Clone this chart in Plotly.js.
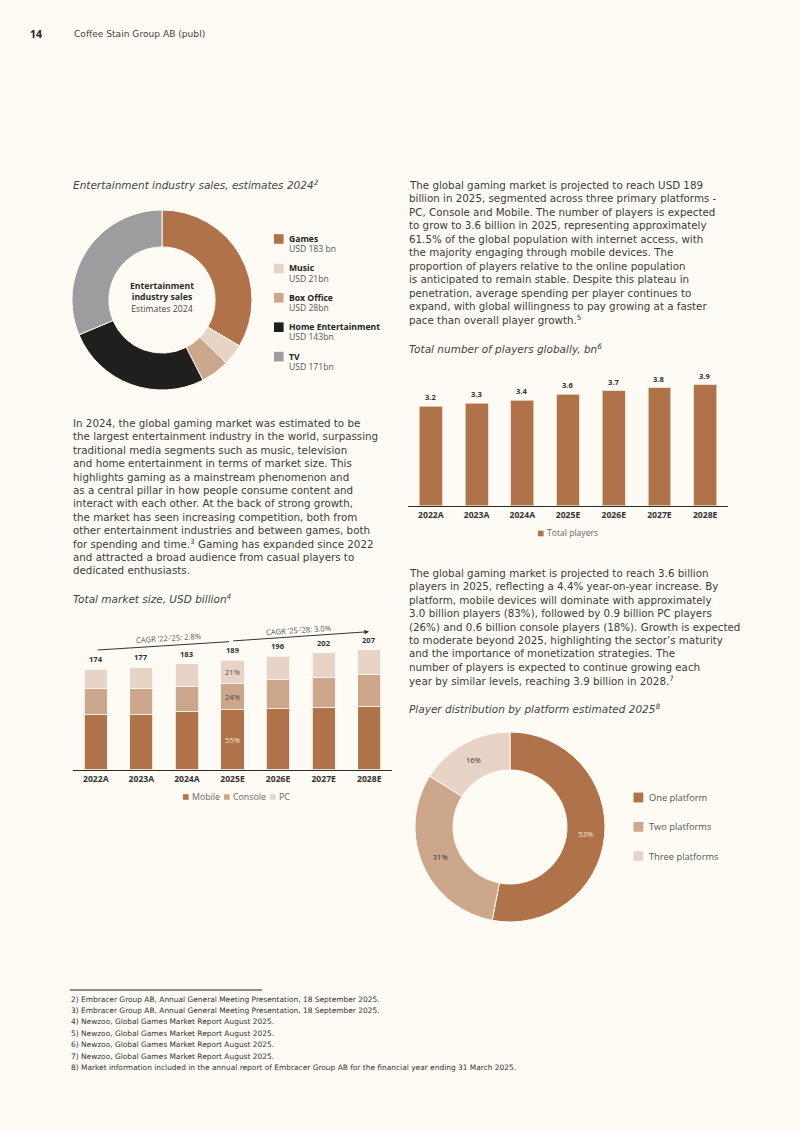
<!DOCTYPE html>
<html>
<head>
<meta charset="utf-8">
<script src="https://cdn.plot.ly/plotly-3.0.1.min.js"></script>
<style>
  html, body { margin: 0; padding: 0; background: #fdfbf3; }
  #page { width: 800px; height: 1131px; }
</style>
</head>
<body>
<div id="page"></div>
<script>
// ---- Data ----
const years = ['2022A', '2023A', '2024A', '2025E', '2026E', '2027E', '2028E'];

// Total market size, USD billion
const marketSeries = ['Mobile', 'Console', 'PC'];
const mobile = [95, 95, 100, 104, 106, 107, 109];
const consoleSales = [45, 45, 44, 45, 50, 52, 55];
const pc = [34, 37, 39, 40, 40, 43, 43];
const shareYear = '2025E';
const cagrLabels = ['CAGR \u201922-\u201925: 2.8%', 'CAGR \u201925-\u201928: 3.0%'];

// Total number of players globally, bn
const playerSeries = 'Total players';
const players = [3.2, 3.3, 3.4, 3.6, 3.7, 3.8, 3.9];

// Entertainment industry sales, estimates 2024
const entLabels = ['Games', 'Music', 'Box Office', 'Home Entertainment', 'TV'];
const entValues = [183, 21, 28, 143, 171];
const entValueText = ['USD 183 bn', 'USD 21bn', 'USD 28bn', 'USD 143bn', 'USD 171bn'];

// Player distribution by platform estimated 2025, %
const platformLabels = ['One platform', 'Two platforms', 'Three platforms'];
const platformShares = [53, 31, 16];

// ---- Style ----
const W = 800, H = 1131;
const FONT = 'Open Sans, sans-serif';       // chart labels
const BODY = 'DejaVu Sans, sans-serif';     // running text
const BG = '#fdfbf3';
const COPPER = '#b07349', TAN = '#cda78b', SAND = '#e7d4c6', INK = '#1f1f1d', GREY = '#9d9c9f';
const TEXT = '#3b3b3b';
const px = x => x / W;
const py = y => 1 - y / H;

const annotations = [];
const shapes = [];

function txt(x, y, s, o = {}) {
  annotations.push({
    xref: 'paper', yref: 'paper', x: px(x), y: py(y), text: s, showarrow: false,
    xanchor: o.anchor || 'left', yanchor: 'middle', textangle: o.angle || 0, borderpad: 0,
    align: o.anchor === 'center' ? 'center' : 'left',
    font: { family: o.family || FONT, size: o.size || 10, color: o.color || TEXT, weight: o.weight || 400 }
  });
}
function para(x, y0, step, lines, o) {
  lines.forEach((l, i) => txt(x, y0 + i * step, l, o));
}
function square(x, y, s, color) {
  shapes.push({ type: 'rect', xref: 'paper', yref: 'paper', x0: px(x), x1: px(x + s),
    y0: py(y + s / 2), y1: py(y - s / 2), fillcolor: color, line: { width: 0 } });
}

const bodyStyle = { family: BODY, size: 10.3, color: TEXT };
const titleStyle = { family: BODY, size: 10.5, color: '#444' };

// ---- Page header ----
txt(28.5, 34, '14', { size: 10.5, weight: 700, color: '#222' });
txt(72.5, 34, 'Coffee Stain Group AB (publ)', { family: BODY, size: 9.1, color: '#444' });

// ---- Text blocks ----
txt(72, 185, '<i>Entertainment industry sales, estimates 2024<sup>2</sup></i>', titleStyle);

para(408, 185, 13.45, [
  'The global gaming market is projected to reach USD 189',
  'billion in 2025, segmented across three primary platforms -',
  'PC, Console and Mobile. The number of players is expected',
  'to grow to 3.6 billion in 2025, representing approximately',
  '61.5% of the global population with internet access, with',
  'the majority engaging through mobile devices. The',
  'proportion of players relative to the online population',
  'is anticipated to remain stable. Despite this plateau in',
  'penetration, average spending per player continues to',
  'expand, with global willingness to pay growing at a faster',
  'pace than overall player growth.<sup>5</sup>'
], bodyStyle);
txt(408, 348, '<i>Total number of players globally, bn<sup>6</sup></i>', titleStyle);

para(72, 423, 13.4, [
  'In 2024, the global gaming market was estimated to be',
  'the largest entertainment industry in the world, surpassing',
  'traditional media segments such as music, television',
  'and home entertainment in terms of market size. This',
  'highlights gaming as a mainstream phenomenon and',
  'as a central pillar in how people consume content and',
  'interact with each other. At the back of strong growth,',
  'the market has seen increasing competition, both from',
  'other entertainment industries and between games, both',
  'for spending and time.<sup>3</sup> Gaming has expanded since 2022',
  'and attracted a broad audience from casual players to',
  'dedicated enthusiasts.'
], bodyStyle);
txt(72, 598, '<i>Total market size, USD billion<sup>4</sup></i>', titleStyle);

para(408, 573, 13.4, [
  'The global gaming market is projected to reach 3.6 billion',
  'players in 2025, reflecting a 4.4% year-on-year increase. By',
  'platform, mobile devices will dominate with approximately',
  '3.0 billion players (83%), followed by 0.9 billion PC players',
  '(26%) and 0.6 billion console players (18%). Growth is expected',
  'to moderate beyond 2025, highlighting the sector\u2019s maturity',
  'and the importance of monetization strategies. The',
  'number of players is expected to continue growing each',
  'year by similar levels, reaching 3.9 billion in 2028.<sup>7</sup>'
], bodyStyle);
txt(408, 708, '<i>Player distribution by platform estimated 2025<sup>8</sup></i>', titleStyle);

// ---- Footnotes ----
shapes.push({ type: 'line', xref: 'paper', yref: 'paper', x0: px(70), x1: px(262), y0: py(990), y1: py(990),
  line: { color: '#222', width: 1 } });
para(69.5, 999, 11.4, [
  '2) Embracer Group AB, Annual General Meeting Presentation, 18 September 2025.',
  '3) Embracer Group AB, Annual General Meeting Presentation, 18 September 2025.',
  '4) Newzoo, Global Games Market Report August 2025.',
  '5) Newzoo, Global Games Market Report August 2025.',
  '6) Newzoo, Global Games Market Report August 2025.',
  '7) Newzoo, Global Games Market Report August 2025.',
  '8) Market information included in the annual report of Embracer Group AB for the financial year ending 31 March 2025.'
], { family: BODY, size: 7.45, color: '#333' });

// ---- Entertainment donut: centre text and legend ----
txt(162, 297.3, '<b>Entertainment</b><br><b>industry sales</b><br><span style="color:#444">Estimates 2024</span>',
  { anchor: 'center', size: 8.7, color: '#2a2a2a' });
const entColors = [COPPER, SAND, TAN, INK, GREY];
entLabels.forEach((lab, i) => {
  const y = 239 + i * 29.4;
  square(274, y, 9.6, entColors[i]);
  txt(288, y, lab, { size: 8.6, weight: 700, color: '#222' });
  txt(288, y + 10.2, entValueText[i], { size: 8.6, color: '#555' });
});

// ---- Platform donut legend ----
const platColors = [COPPER, TAN, SAND];
platformLabels.forEach((lab, i) => {
  const y = 797.5 + i * 29.3;
  square(633.5, y, 9.8, platColors[i]);
  txt(647.5, y, lab, { size: 9.3, color: '#555' });
});

// ---- Bar chart legends ----
const mktColors = [COPPER, TAN, SAND];
let lx = 183;
const legendGap = [0, 41, 46];
marketSeries.forEach((name, i) => {
  lx += legendGap[i];
  square(lx, 797, 5.6, mktColors[i]);
  txt(lx + 7.5, 797, name, { size: 8.8, color: '#666' });
});
square(538, 533.5, 5.6, COPPER);
txt(546, 533.5, playerSeries, { size: 8.6, color: '#666' });

// ---- Value labels from the data ----
const totals = years.map((_, i) => mobile[i] + consoleSales[i] + pc[i]);
years.forEach((yr, i) => {
  annotations.push({ xref: 'x', yref: 'y', x: yr, y: totals[i], yanchor: 'bottom', yshift: 3,
    text: String(totals[i]), showarrow: false,
    font: { family: FONT, size: 7.6, color: '#333', weight: 700 } });
  annotations.push({ xref: 'x2', yref: 'y2', x: yr, y: players[i], yanchor: 'bottom', yshift: 2,
    text: players[i].toFixed(1), showarrow: false,
    font: { family: FONT, size: 7.6, color: '#333', weight: 700 } });
});

// Segment shares for one year, placed at the middle of each stacked segment
const si = years.indexOf(shareYear);
const shareColors = ['#f3e4d6', '#4a4a4a', '#4a4a4a'];
let base = 0;
[mobile, consoleSales, pc].forEach((arr, k) => {
  const v = arr[si];
  annotations.push({ xref: 'x', yref: 'y', x: shareYear, y: base + v / 2, yanchor: 'middle',
    text: Math.round(v / totals[si] * 100) + '%', showarrow: false,
    font: { family: FONT, size: 7.6, color: shareColors[k] } });
  base += v;
});

// CAGR arrows
shapes.push({ type: 'line', xref: 'paper', yref: 'paper', x0: px(97.7), y0: py(650), x1: px(229), y1: py(641.7),
  line: { color: '#333', width: 1 } });
annotations.push({ xref: 'paper', yref: 'paper', x: px(369), y: py(631.7), ax: 231.7 - 369, ay: 641 - 631.7,
  text: '', showarrow: true, arrowhead: 2, arrowsize: 0.9, arrowwidth: 1, arrowcolor: '#333' });
txt(168, 638.5, cagrLabels[0], { anchor: 'center', angle: -3.6, size: 7.6, color: '#555' });
txt(298, 630.3, cagrLabels[1], { anchor: 'center', angle: -3.9, size: 7.6, color: '#555' });

// ---- Traces ----
const segLine = { color: BG, width: 0.8 };
const barCommon = { type: 'bar', x: years, width: 0.51, xaxis: 'x', yaxis: 'y', hoverinfo: 'skip',
  textposition: 'none', showlegend: false };

const traces = [
  Object.assign({}, barCommon, { name: marketSeries[0], y: mobile, marker: { color: COPPER, line: segLine } }),
  Object.assign({}, barCommon, { name: marketSeries[1], y: consoleSales, marker: { color: TAN, line: segLine } }),
  Object.assign({}, barCommon, { name: marketSeries[2], y: pc, marker: { color: SAND, line: segLine } }),
  { type: 'bar', name: playerSeries, x: years, y: players, width: 0.5, xaxis: 'x2', yaxis: 'y2',
    textposition: 'none',
    marker: { color: COPPER, line: { color: '#e9d6c4', width: 0.8 } }, hoverinfo: 'skip', showlegend: false },
  { type: 'pie', labels: entLabels, values: entValues, sort: false, direction: 'clockwise', rotation: 0,
    hole: 0.59, textinfo: 'none', hoverinfo: 'skip', showlegend: false,
    marker: { colors: entColors, line: { color: BG, width: 1 } },
    domain: { x: [px(72), px(252)], y: [py(390), py(210)] } },
  { type: 'pie', labels: platformLabels, values: platformShares, sort: false, direction: 'clockwise', rotation: 0,
    hole: 0.6, texttemplate: '%{percent:.0%}', textposition: 'inside', insidetextorientation: 'horizontal',
    textfont: { family: FONT, size: 7.6, color: ['#f6eadf', '#333', '#333'] }, hoverinfo: 'skip', showlegend: false,
    marker: { colors: platColors, line: { color: BG, width: 1 } },
    domain: { x: [px(415), px(605)], y: [py(922), py(732)] } }
];

const catAxis = {
  type: 'category', range: [-0.5, 6.5], showline: true, linecolor: '#2a2a2a', linewidth: 1.2,
  ticks: '', showgrid: false, zeroline: false, fixedrange: true,
  tickfont: { family: FONT, size: 8.6, color: '#333', weight: 700 }
};

const layout = {
  width: W, height: H, margin: { l: 0, r: 0, t: 0, b: 0 },
  paper_bgcolor: BG, plot_bgcolor: 'rgba(0,0,0,0)',
  barmode: 'stack', showlegend: false, hovermode: false,
  xaxis: Object.assign({}, catAxis, { domain: [px(73), px(392)], anchor: 'y' }),
  yaxis: { domain: [py(770), py(770 - 240 * 0.58)], range: [0, 240], visible: false, fixedrange: true },
  xaxis2: Object.assign({}, catAxis, { domain: [px(408), px(728)], anchor: 'y2' }),
  yaxis2: { domain: [py(506), py(506 - 4.5 * 31.1)], range: [0, 4.5], visible: false, fixedrange: true },
  annotations: annotations,
  shapes: shapes
};

Plotly.newPlot('page', traces, layout, { staticPlot: true, displayModeBar: false });
</script>
</body>
</html>
